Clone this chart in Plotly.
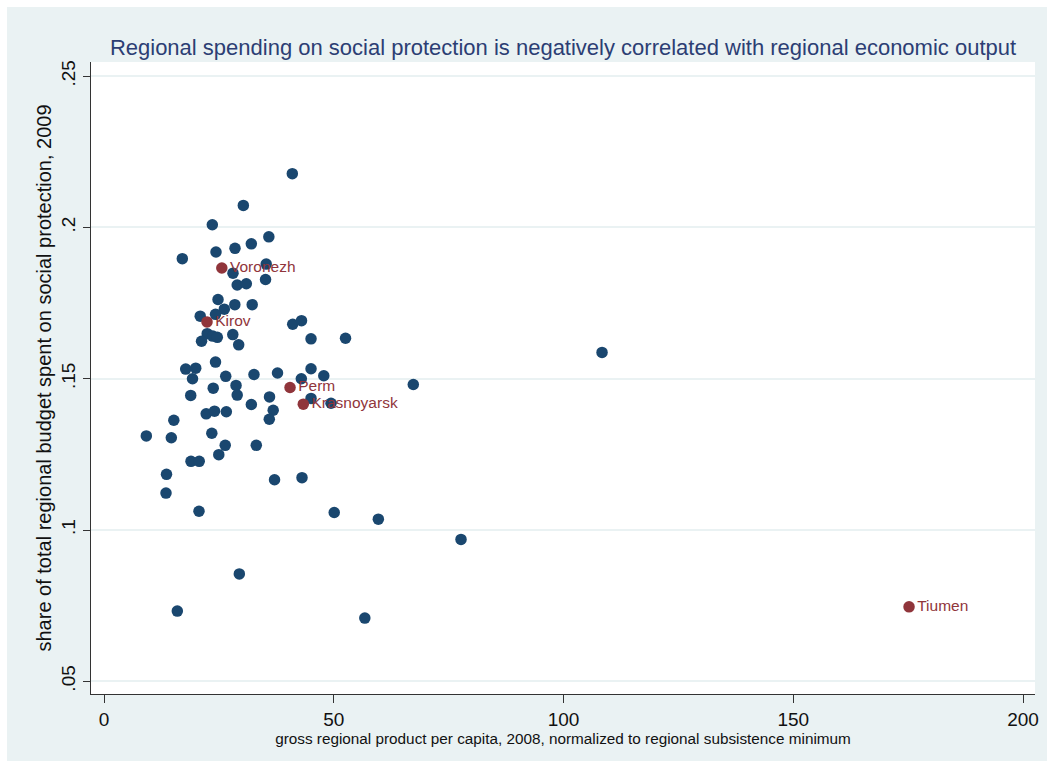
import plotly.graph_objects as go

# Regions: gross regional product per capita (2008, relative to subsistence minimum)
# and share of regional budget spent on social protection (2009)
grp_per_capita = [
    40.98, 30.32, 23.57, 35.87, 32.06, 28.51, 24.37, 17.04, 35.30, 28.07,
    35.15, 28.99, 30.97, 24.81, 26.18, 28.47, 32.25, 20.94, 24.27, 41.07,
    42.98, 22.46, 23.66, 24.66, 21.22, 28.03, 29.31, 45.05, 52.56, 24.27,
    17.78, 19.96, 19.26, 26.49, 32.64, 37.76, 45.05, 47.83, 42.94, 67.31,
    23.77, 28.73, 28.99, 18.87, 36.02, 32.06, 45.05, 49.40, 36.82, 35.97,
    22.24, 24.05, 26.62, 15.19, 9.21, 14.65, 23.46, 26.38, 33.14, 24.98,
    18.93, 20.72, 13.60, 13.49, 37.11, 43.09, 20.67, 50.10, 59.70, 77.69,
    29.45, 15.95, 56.76, 108.38,
]
social_share = [
    0.2178, 0.2073, 0.2009, 0.1969, 0.1946, 0.1931, 0.1919, 0.1897, 0.1879, 0.1849,
    0.1828, 0.1810, 0.1814, 0.1762, 0.1730, 0.1745, 0.1745, 0.1707, 0.1713, 0.1680,
    0.1692, 0.1649, 0.1641, 0.1637, 0.1624, 0.1646, 0.1612, 0.1632, 0.1634, 0.1555,
    0.1532, 0.1535, 0.1500, 0.1508, 0.1514, 0.1519, 0.1533, 0.1510, 0.1500, 0.1481,
    0.1469, 0.1478, 0.1446, 0.1445, 0.1440, 0.1415, 0.1435, 0.1419, 0.1396, 0.1366,
    0.1384, 0.1393, 0.1391, 0.1363, 0.1311, 0.1305, 0.1320, 0.1280, 0.1280, 0.1249,
    0.1227, 0.1227, 0.1184, 0.1122, 0.1166, 0.1173, 0.1062, 0.1058, 0.1036, 0.0969,
    0.0855, 0.0732, 0.0709, 0.1587,
]

# Highlighted regions
named_regions = ["Voronezh", "Kirov", "Perm", "Krasnoyarsk", "Tiumen"]
named_grp = [25.64, 22.42, 40.48, 43.37, 175.19]
named_share = [0.1866, 0.1688, 0.1471, 0.1416, 0.0746]

y_tick_values = [0.05, 0.10, 0.15, 0.20, 0.25]
y_tick_labels = [".05", ".1", ".15", ".2", ".25"]
x_tick_values = [0, 50, 100, 150, 200]

NAVY = "#1a476f"
MAROON = "#90353b"
REGION_BG = "#eaf2f3"
FONT = "Liberation Sans, Arial, Helvetica, sans-serif"

W, H = 1054, 768
ML, MR, MT, MB = 91, 19, 62, 74
PW, PH = W - ML - MR, H - MT - MB

fig = go.Figure()
fig.add_trace(go.Scatter(
    x=grp_per_capita, y=social_share, mode="markers",
    marker=dict(color=NAVY, size=11.5),
    showlegend=False, hoverinfo="x+y",
))
fig.add_trace(go.Scatter(
    x=named_grp, y=named_share, mode="markers+text",
    text=named_regions, textposition="middle right",
    textfont=dict(color=MAROON, size=15.5, family=FONT),
    marker=dict(color=MAROON, size=11.5),
    showlegend=False, hoverinfo="x+y+text",
))

# white frame around the graph region
fig.add_shape(
    type="rect", xref="paper", yref="paper",
    x0=-ML / PW, x1=(W - ML) / PW, y0=-MB / PH, y1=(H - MB) / PH,
    line=dict(color="white", width=14), fillcolor="rgba(0,0,0,0)",
    layer="above",
)

fig.update_layout(
    width=W, height=H,
    margin=dict(l=ML, r=MR, t=MT, b=MB, pad=0),
    paper_bgcolor=REGION_BG, plot_bgcolor="white",
    font=dict(family=FONT, color="#111111"),
    title=dict(
        text="Regional spending on social protection is negatively correlated with regional economic output",
        font=dict(size=22, color="#2c3e74", family=FONT),
        x=0.5, xref="paper", xanchor="center",
        y=1 - 47 / H, yref="container", yanchor="middle",
    ),
    xaxis=dict(
        range=[-2.83, 202.6],
        tickvals=x_tick_values,
        ticks="outside", ticklen=8, tickwidth=1, tickcolor="#333333",
        tickfont=dict(size=19, color="#111111"),
        showgrid=False, zeroline=False,
        showline=True, linecolor="#333333", linewidth=1,
        title=dict(
            text="gross regional product per capita, 2008, normalized to regional subsistence minimum",
            font=dict(size=15.3, color="#111111"), standoff=4,
        ),
        automargin=False,
    ),
    yaxis=dict(
        range=[0.0458, 0.2547],
        tickvals=y_tick_values, ticktext=y_tick_labels, tickangle=-90,
        ticks="outside", ticklen=7, tickwidth=1, tickcolor="#333333",
        tickfont=dict(size=19, color="#111111"),
        showgrid=True, gridcolor=REGION_BG, gridwidth=1.5,
        zeroline=False,
        showline=True, linecolor="#333333", linewidth=1,
        title=dict(
            text="share of total regional budget spent on social protection, 2009",
            font=dict(size=20, color="#111111"), standoff=1,
        ),
        automargin=False,
    ),
)

fig.write_html("out.html")
